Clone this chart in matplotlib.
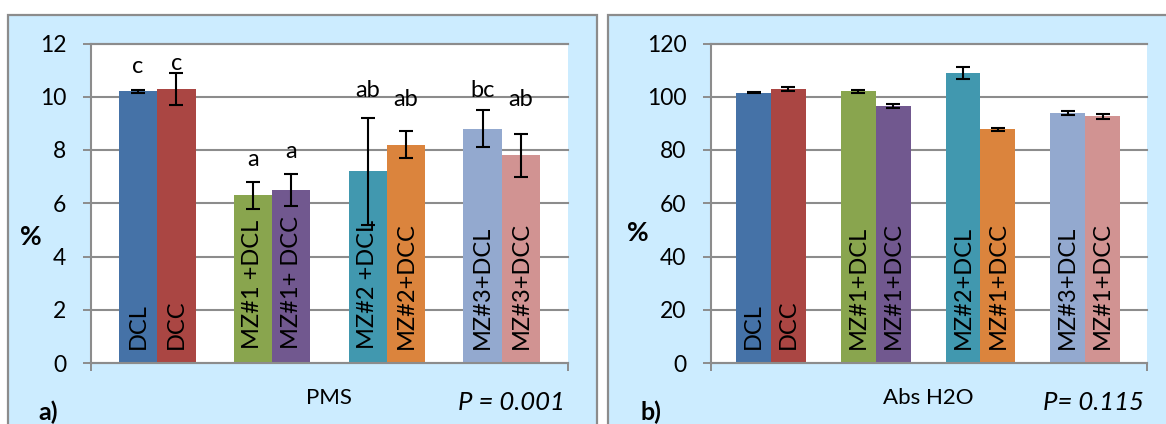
import matplotlib.pyplot as plt
from matplotlib.patches import Rectangle

# -------- Canvas settings --------
W, H, DPI = 1166, 424, 100
plt.rcParams['font.family'] = ['Lato', 'DejaVu Sans']

# -------- Data --------
SLOTS = [0, 1, 3, 4, 6, 7, 9, 10]
COLORS = ["#4572A7", "#AA4643", "#89A54E", "#71588F",
          "#4198AF", "#DB843D", "#93A9CF", "#D19392"]

PMS_LABELS = ["DCL", "DCC", "MZ#1 +DCL", "MZ#1+ DCC",
              "MZ#2 +DCL", "MZ#2+DCC", "MZ#3+DCL", "MZ#3+DCC"]
PMS_MEAN = [10.2, 10.3, 6.3, 6.5, 7.2, 8.2, 8.8, 7.8]
PMS_ERR = [0.06, 0.6, 0.5, 0.6, 2.0, 0.5, 0.7, 0.8]
PMS_LETTERS = ["c", "c", "a", "a", "ab", "ab", "bc", "ab"]

ABS_LABELS = ["DCL", "DCC", "MZ#1+DCL", "MZ#1+DCC",
              "MZ#2+DCL", "MZ#1+DCC", "MZ#3+DCL", "MZ#1+DCC"]
ABS_MEAN = [101.5, 103.0, 102.0, 96.4, 108.8, 87.7, 94.0, 92.6]
ABS_ERR = [0.15, 0.75, 0.7, 0.75, 2.2, 0.6, 0.8, 0.9]

# baseline heights of the significance letters (placement only)
LETTER_Y = [10.9, 11.0, 7.4, 7.7, 10.0, 9.65, 10.0, 9.65]

GRID = "#8C8C8C"
PANEL_BG = "#CCECFF"
BAR_SIZE = 17


def px(x, y):
    return x / W, 1 - y / H


def draw_panel(ax, means, errs, labels, ylim, yticks, xlim):
    ax.bar(SLOTS, means, width=1.0, color=COLORS, zorder=2)
    ax.errorbar(SLOTS, means, yerr=errs, fmt="none", ecolor="black",
                elinewidth=1.5, capsize=4.7, capthick=1.5, zorder=3)

    for x, lab in zip(SLOTS, labels):
        ax.annotate(lab, xy=(x, 0), xytext=(0, 10), textcoords="offset points",
                    rotation=90, ha="center", va="bottom", fontsize=BAR_SIZE,
                    color="black", zorder=4)

    ax.set_xlim(*xlim)
    ax.set_ylim(*ylim)
    ax.set_yticks(yticks)
    ax.set_xticks(list(xlim))
    ax.set_xticklabels([])
    ax.yaxis.grid(True, color=GRID, lw=1.5)
    ax.set_axisbelow(True)
    ax.tick_params(axis="both", direction="out", length=5.8, width=1.4,
                   color=GRID, labelsize=16.5, pad=12)
    for s in ("left", "bottom", "top"):
        ax.spines[s].set_color(GRID)
        ax.spines[s].set_linewidth(1.5)
    ax.spines["right"].set_visible(False)
    for gl in ax.get_ygridlines():
        gl.set_clip_on(False)


fig = plt.figure(figsize=(W / DPI, H / DPI), dpi=DPI, facecolor="white")

# panel backgrounds
for x0, x1 in [(8, 597), (608, 1250)]:
    fig.patches.append(Rectangle((x0 / W, -0.1), (x1 - x0) / W, 1.1 - 15 / H,
                                 transform=fig.transFigure, facecolor=PANEL_BG,
                                 edgecolor=GRID, lw=1.6, zorder=-10))

y_top, y_bot = 1 - 43.5 / H, 1 - 363 / H
ax1 = fig.add_axes([91 / W, y_bot, (568 - 91) / W, y_top - y_bot])
ax2 = fig.add_axes([711 / W, y_bot, (1147 - 711) / W, y_top - y_bot])

# ------------------------------
# a) PMS
# ------------------------------
draw_panel(ax1, PMS_MEAN, PMS_ERR, PMS_LABELS, (0, 12), range(0, 13, 2), (-1.23, 11.23))
for x, let, ly in zip(SLOTS, PMS_LETTERS, LETTER_Y):
    ax1.text(x, ly, let, ha="center", va="baseline", fontsize=17, color="black")

fig.text(*px(31, 237), "%", ha="center", va="center", fontsize=19, fontweight="bold")
fig.text(*px(329, 398), "PMS", ha="center", va="center", fontsize=16)
fig.text(*px(565, 402), "P = 0.001", ha="right", va="center", fontsize=18.5, style="italic")
fig.text(*px(38, 424), "a)", ha="left", va="bottom", fontsize=18, fontweight="bold")

# ------------------------------
# b) Abs H2O
# ------------------------------
draw_panel(ax2, ABS_MEAN, ABS_ERR, ABS_LABELS, (0, 120), range(0, 121, 20), (-1.22, 11.27))

fig.text(*px(638, 233), "%", ha="center", va="center", fontsize=19, fontweight="bold")
fig.text(*px(928, 398), "Abs H2O", ha="center", va="center", fontsize=16)
fig.text(*px(1144, 402), "P= 0.115", ha="right", va="center", fontsize=18.5, style="italic")
fig.text(*px(640, 424), "b)", ha="left", va="bottom", fontsize=18, fontweight="bold")

fig.savefig("out.png", dpi=DPI, facecolor="white")
